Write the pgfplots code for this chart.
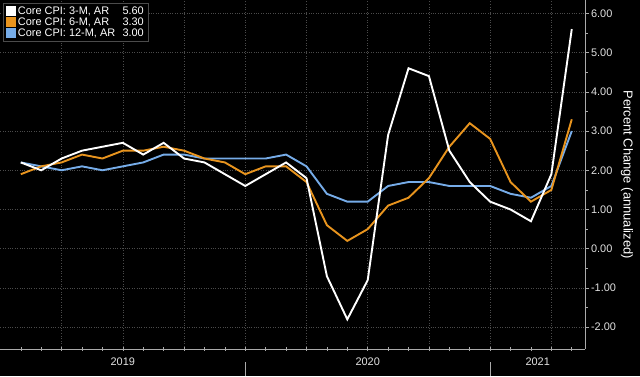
\documentclass[border=0pt]{standalone}
\usepackage{pgfplots}
\pgfplotsset{compat=1.18}
\usepackage{fontspec}
\setmainfont{Liberation Sans}
\definecolor{cpiorange}{RGB}{232,148,30}
\definecolor{cpiblue}{RGB}{118,172,232}
\definecolor{gridgray}{RGB}{75,75,75}
\definecolor{axgray}{RGB}{170,170,170}
\definecolor{txtgray}{RGB}{225,225,225}
\begin{document}
\begin{tikzpicture}
\fill[black] (0,-27bp) rectangle (640bp,349bp);
\begin{axis}[
  at={(0,0)}, anchor=south west,
  scale only axis, width=585bp, height=349bp,
  xmin=0, xmax=28.65, ymin=-2.56, ymax=6.33,
  axis x line*=bottom, axis y line*=right,
  axis line style={axgray, line width=0.8bp},
  every axis plot/.append style={line width=1.9bp},
  xtick={1,...,28}, xticklabels={},
  minor xtick={3,6,...,27},
  xtick align=center, ytick align=outside,
  major tick length=4bp, minor tick length=2.5bp,
  x tick style={axgray, line width=0.6bp},
  minor x tick style={draw=none},
  y tick style={axgray, line width=0.6bp},
  ytick={-2,...,6}, minor y tick num=1,
  yticklabel pos=right,
  xmajorgrids=false, xminorgrids=true, ymajorgrids=true,
  grid style={gridgray, dotted, line width=0.6bp},
  minor grid style={gridgray, dotted, line width=0.6bp},
  /pgf/number format/assume math mode=true,
  yticklabel style={/pgf/number format/fixed, /pgf/number format/fixed zerofill, /pgf/number format/precision=2, font=\fontsize{11}{13}\selectfont, text=txtgray, xshift=-1.5bp},
  extra x ticks={6,18,26.33},
  extra x tick labels={2019,2020,2021},
  extra x tick style={major tick length=0pt, xmajorgrids=false, tick label style={font=\fontsize{11}{13}\selectfont, text=txtgray, yshift=-5bp}},
  ylabel={Percent Change (annualized)},
  every axis y label/.style={at={(rel axis cs:1,0.5)}, xshift=42bp, rotate=-90, anchor=center, font=\fontsize{13}{15}\selectfont, text=white},
  legend style={at={(rel axis cs:0.005,0.992)}, anchor=north west, fill=black, draw=gridgray, text=white, font=\fontsize{11}{13}\selectfont, inner xsep=2bp, inner ysep=1bp, row sep=-2bp, cells={anchor=west}},
  legend image code/.code={\fill[#1] (0bp,-4bp) rectangle (8.5bp,4.5bp);},
  legend cell align=left,
  reverse legend,
  clip=false,
]
\addplot[color=cpiblue] coordinates {
(1,2.2)(2,2.1)(3,2.0)(4,2.1)(5,2.0)(6,2.1)(7,2.2)(8,2.4)(9,2.4)(10,2.3)(11,2.3)(12,2.3)
(13,2.3)(14,2.4)(15,2.1)(16,1.4)(17,1.2)(18,1.2)(19,1.6)(20,1.7)(21,1.7)(22,1.6)(23,1.6)(24,1.6)
(25,1.4)(26,1.3)(27,1.6)(28,3.0)};
\addlegendentry{\makebox[126bp][l]{Core CPI: 12-M, AR\hfill 3.00}}
\addplot[color=cpiorange] coordinates {
(1,1.9)(2,2.1)(3,2.2)(4,2.4)(5,2.3)(6,2.5)(7,2.5)(8,2.6)(9,2.5)(10,2.3)(11,2.2)(12,1.9)
(13,2.1)(14,2.1)(15,1.7)(16,0.6)(17,0.2)(18,0.5)(19,1.1)(20,1.3)(21,1.8)(22,2.6)(23,3.2)(24,2.8)
(25,1.7)(26,1.2)(27,1.5)(28,3.3)};
\addlegendentry{\makebox[126bp][l]{Core CPI: 6-M, AR\hfill 3.30}}
\addplot[color=white] coordinates {
(1,2.2)(2,2.0)(3,2.3)(4,2.5)(5,2.6)(6,2.7)(7,2.4)(8,2.7)(9,2.3)(10,2.2)(11,1.9)(12,1.6)
(13,1.9)(14,2.2)(15,1.8)(16,-0.7)(17,-1.8)(18,-0.8)(19,2.9)(20,4.6)(21,4.4)(22,2.5)(23,1.7)(24,1.2)
(25,1.0)(26,0.7)(27,1.9)(28,5.6)};
\addlegendentry{\makebox[126bp][l]{Core CPI: 3-M, AR\hfill 5.60}}
\draw[axgray, line width=0.6bp] ([yshift=-13bp]axis cs:12,-2.56) -- ([yshift=-27bp]axis cs:12,-2.56);
\draw[axgray, line width=0.6bp] ([yshift=-13bp]axis cs:24,-2.56) -- ([yshift=-27bp]axis cs:24,-2.56);
\end{axis}
\end{tikzpicture}
\end{document}
